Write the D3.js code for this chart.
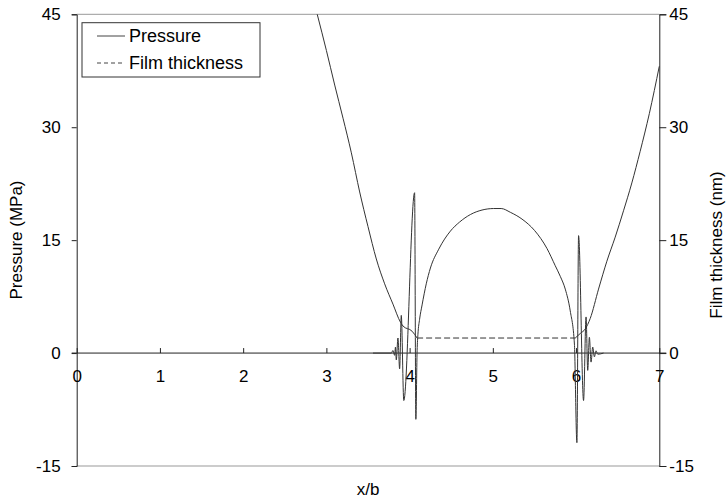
<!DOCTYPE html>
<html lang="en">
<head>
<meta charset="UTF-8">
<title></title>
<script src="https://d3js.org/d3.v7.min.js"></script>
<style>
	body{margin:0;background:#fff;}
	text{font-family:Arial,"Liberation Sans",sans-serif;fill:#000;}
</style>
</head>
<body>
<script>
var xTicks=[0,1,2,3,4,5,6,7];
var yTicks=[-15,0,15,30,45];

var pressureX=[3.56,3.78,3.80,3.82,3.83,3.84,3.86,3.88,3.90,3.93,4.06,4.075,4.09,4.10,4.12,4.15,4.20,4.25,4.35,4.49,4.60,4.73,4.87,5.01,5.10,5.21,5.35,5.50,5.65,5.75,5.81,5.87,5.93,5.98,6.01,6.03,6.09,6.12,6.14,6.16,6.18,6.20,6.22,6.24,6.26,6.33];
var pressure=[0,0,0.35,-0.3,0.8,-0.9,2.0,-2.1,5.0,-6.3,21.3,-8.8,0.3,2.5,4.5,6.4,9.2,11.3,13.8,16.2,17.4,18.4,19.0,19.2,19.2,18.7,17.8,16.3,13.9,11.6,10.2,8.5,5.6,1.2,-11.9,15.6,-6.3,4.8,-2.3,2.1,-1.2,0.8,-0.5,0.3,-0.15,0];

var filmX=[2.89,3.0,3.1,3.2,3.3,3.4,3.5,3.6,3.7,3.8,3.89,3.92,4.03,4.09,5.99,6.05,6.11,6.17,6.27,6.37,6.47,6.57,6.67,6.77,6.88,7.0];
var film=[45,40.2,35.6,31.2,26.6,21.4,16.8,12.5,9.2,6.5,4.1,3.6,2.9,2.0,2.0,2.6,3.2,4.6,8.5,12.2,15.4,18.9,22.6,26.8,31.8,38.1];

var legendItems=[{label:"Pressure",dash:null},{label:"Film thickness",dash:"4,3"}];

var svg=d3.select("body").append("svg").attr("width",726).attr("height",499);
var x=d3.scaleLinear().domain([0,7]).range([76.7,659.3]);
var y=d3.scaleLinear().domain([-15,45]).range([466,14.3]);
var fmt=function(d){return String(d);};

// plot frame: top and bottom gray, sides dark
svg.append("line").attr("x1",x(0)).attr("x2",x(7)).attr("y1",y(45)).attr("y2",y(45)).style("stroke","#999");
svg.append("line").attr("x1",x(0)).attr("x2",x(7)).attr("y1",y(-15)).attr("y2",y(-15)).style("stroke","#999");

var left=svg.append("g").attr("transform","translate("+x(0)+",0)").call(d3.axisLeft(y).tickValues(yTicks).tickSize(5).tickPadding(11).tickFormat(fmt));
var right=svg.append("g").attr("transform","translate("+x(7)+",0)").call(d3.axisRight(y).tickValues(yTicks).tickSize(7).tickPadding(3).tickFormat(fmt));
[left,right].forEach(function(g){
	g.select(".domain").style("stroke","#222");
	g.selectAll(".tick line").style("stroke","#222");
	g.selectAll("text").style("font-size","17px").attr("font-family",null);
});

var bottom=svg.append("g").attr("transform","translate(0,"+y(0)+")").call(d3.axisTop(x).tickValues(xTicks).tickSize(5).tickSizeOuter(0).tickFormat(fmt));
bottom.select(".domain").remove();
bottom.selectAll(".tick line").style("stroke","#222");
bottom.selectAll("text").attr("y",29).attr("dy",0).style("font-size","17px").attr("font-family",null);
svg.append("line").attr("x1",x(0)-5).attr("x2",x(7)+7).attr("y1",y(0)).attr("y2",y(0)).style("stroke","#222");

var pLine=d3.line().x(function(d,i){return x(pressureX[i]);}).y(function(d){return y(d);}).curve(d3.curveMonotoneX);
svg.append("path").datum(pressure).attr("d",pLine).style("fill","none").style("stroke","#333").style("stroke-width",1);

// film thickness: flat contact part dashed, flanks solid
var runs=[],start=0;
for(var i=0;i<film.length-1;i++){
	if(film[i]==film[i+1]){
		runs.push({idx:d3.range(start,i+1),dash:null});
		runs.push({idx:[i,i+1],dash:"6,3"});
		start=i+1;
	}
}
runs.push({idx:d3.range(start,film.length),dash:null});
var fLine=d3.line().x(function(k){return x(filmX[k]);}).y(function(k){return y(film[k]);}).curve(d3.curveMonotoneX);
svg.selectAll(".film").data(runs).enter().append("path")
	.attr("class","film")
	.attr("d",function(d){return fLine(d.idx);})
	.style("fill","none")
	.style("stroke","#333")
	.style("stroke-width",1)
	.style("stroke-dasharray",function(d){return d.dash;});

var lg=svg.append("g");
lg.append("rect").attr("x",82).attr("y",22.7).attr("width",178).attr("height",54.3).style("fill","#fff").style("stroke","#333");
lg.selectAll(".lgline").data(legendItems).enter().append("line")
	.attr("x1",97).attr("x2",125)
	.attr("y1",function(d,i){return 36+i*27;}).attr("y2",function(d,i){return 36+i*27;})
	.style("stroke","#444").style("stroke-dasharray",function(d){return d.dash;});
lg.selectAll(".lgtext").data(legendItems).enter().append("text")
	.attr("x",129).attr("y",function(d,i){return 36+i*27;}).attr("dy","0.35em")
	.style("font-size","18px").text(function(d){return d.label;});

svg.append("text").attr("x",368).attr("y",495).attr("text-anchor","middle").style("font-size","17px").text("x/b");
svg.append("text").attr("transform","translate(22,240) rotate(-90)").attr("text-anchor","middle").style("font-size","17px").text("Pressure (MPa)");
svg.append("text").attr("transform","translate(722,245) rotate(-90)").attr("text-anchor","middle").style("font-size","17px").text("Film thickness (nm)");
</script>
</body>
</html>
